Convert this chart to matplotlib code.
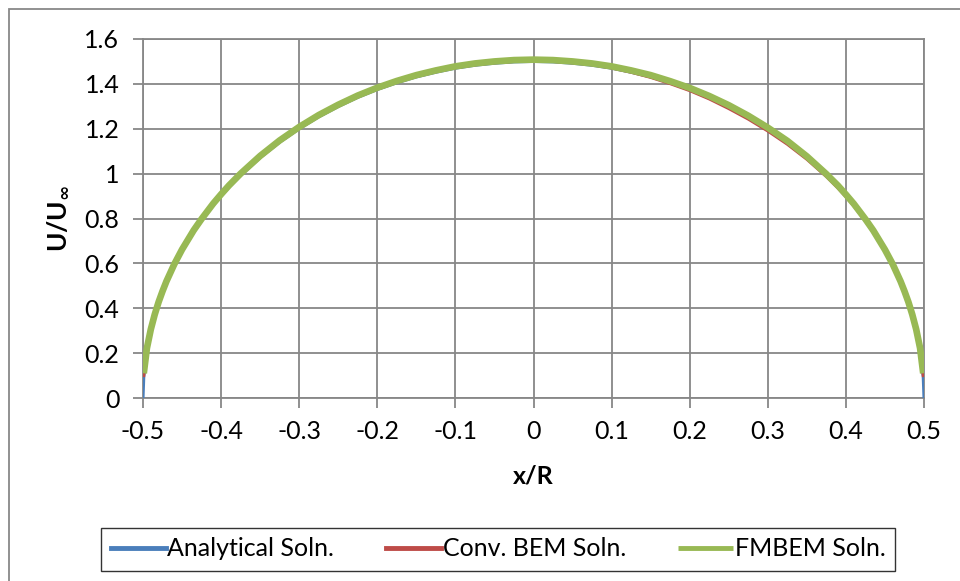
import matplotlib.pyplot as plt
from matplotlib.patches import Rectangle

plt.rcParams['font.family'] = ['Lato', 'DejaVu Sans']

# Solução analítica
x_anal = [-0.5, -0.499, -0.495, -0.49, -0.485, -0.48, -0.475, -0.47, -0.46, -0.45,
          -0.435, -0.425, -0.41, -0.4, -0.39, -0.375, -0.35, -0.325, -0.3, -0.275,
          -0.25, -0.225, -0.2, -0.175, -0.15, -0.125, -0.1, -0.075, -0.05, -0.025, 0.0,
          0.025, 0.05, 0.075, 0.1, 0.125, 0.15, 0.175, 0.2, 0.225, 0.25,
          0.275, 0.3, 0.325, 0.35, 0.375, 0.39, 0.4, 0.41, 0.425, 0.435,
          0.45, 0.46, 0.47, 0.475, 0.48, 0.485, 0.49, 0.495, 0.499, 0.5]
u_anal = [0.0, 0.095, 0.212, 0.298, 0.365, 0.42, 0.468, 0.512, 0.588, 0.654,
          0.74, 0.79, 0.859, 0.9, 0.939, 0.992, 1.071, 1.14, 1.2, 1.253,
          1.299, 1.34, 1.375, 1.405, 1.431, 1.452, 1.47, 1.483, 1.492, 1.498, 1.5,
          1.498, 1.492, 1.483, 1.47, 1.452, 1.431, 1.405, 1.375, 1.34, 1.299,
          1.253, 1.2, 1.14, 1.071, 0.992, 0.939, 0.9, 0.859, 0.79, 0.74,
          0.654, 0.588, 0.512, 0.468, 0.42, 0.365, 0.298, 0.212, 0.095, 0.0]

# BEM convencional
x_bem = [-0.499, -0.495, -0.49, -0.485, -0.48, -0.475, -0.47, -0.46, -0.45,
         -0.435, -0.425, -0.41, -0.4, -0.39, -0.375, -0.35, -0.325, -0.3, -0.275,
         -0.25, -0.225, -0.2, -0.175, -0.15, -0.125, -0.1, -0.075, -0.05, -0.025, 0.0,
         0.025, 0.05, 0.075, 0.1, 0.125, 0.15, 0.175, 0.2, 0.225, 0.25,
         0.275, 0.3, 0.325, 0.35, 0.375, 0.39, 0.4, 0.41, 0.425, 0.435,
         0.45, 0.46, 0.47, 0.475, 0.48, 0.485, 0.49, 0.495, 0.499]
u_bem = [0.10, 0.214, 0.3, 0.367, 0.422, 0.47, 0.514, 0.59, 0.656,
         0.742, 0.792, 0.861, 0.902, 0.941, 0.994, 1.073, 1.142, 1.202, 1.255,
         1.301, 1.342, 1.377, 1.407, 1.433, 1.454, 1.472, 1.485, 1.494, 1.5, 1.502,
         1.5, 1.494, 1.485, 1.471, 1.452, 1.429, 1.401, 1.37, 1.333, 1.29,
         1.243, 1.19, 1.131, 1.064, 0.987, 0.935, 0.897, 0.857, 0.789, 0.74,
         0.655, 0.59, 0.514, 0.47, 0.422, 0.367, 0.3, 0.214, 0.10]

# FMBEM
x_fmm = x_bem
u_fmm = [0.11, 0.222, 0.306, 0.372, 0.428, 0.476, 0.52, 0.596, 0.662,
         0.748, 0.798, 0.867, 0.908, 0.947, 1.0, 1.079, 1.148, 1.208, 1.261,
         1.307, 1.348, 1.383, 1.413, 1.439, 1.46, 1.478, 1.491, 1.5, 1.506, 1.508,
         1.506, 1.5, 1.491, 1.478, 1.46, 1.439, 1.412, 1.382, 1.346, 1.305,
         1.258, 1.205, 1.146, 1.077, 0.998, 0.946, 0.907, 0.866, 0.797, 0.747,
         0.661, 0.596, 0.52, 0.476, 0.428, 0.372, 0.306, 0.222, 0.11]

xticks = [-0.5, -0.4, -0.3, -0.2, -0.1, 0, 0.1, 0.2, 0.3, 0.4, 0.5]
xtick_labels = ['-0.5', '-0.4', '-0.3', '-0.2', '-0.1', '0', '0.1', '0.2', '0.3', '0.4', '0.5']
yticks = [0, 0.2, 0.4, 0.6, 0.8, 1, 1.2, 1.4, 1.6]
ytick_labels = ['0', '0.2', '0.4', '0.6', '0.8', '1', '1.2', '1.4', '1.6']

fig = plt.figure(figsize=(9.6, 5.81), dpi=100)
ax = fig.add_axes([143 / 960, 1 - 398 / 581, (924 - 143) / 960, (398 - 39) / 581])

grid_color = '#878787'
ax.plot(x_anal, u_anal, color='#4a7ebb', lw=2.2, label='Analytical Soln.', zorder=3)
ax.plot(x_bem, u_bem, color='#be4b48', lw=2.2, label='Conv. BEM Soln.', zorder=4)
ax.plot(x_fmm, u_fmm, color='#98b954', lw=4.8, label='FMBEM Soln.', zorder=5,
        solid_capstyle='butt')

ax.set_xlim(-0.5, 0.5)
ax.set_ylim(0, 1.6)
ax.set_xticks(xticks)
ax.set_xticklabels(xtick_labels)
ax.set_yticks(yticks)
ax.set_yticklabels(ytick_labels)
ax.tick_params(axis='both', labelsize=18, length=7, width=1.3, color=grid_color,
               direction='out')
ax.tick_params(axis='y', pad=10)
ax.tick_params(axis='x', pad=9)
ax.grid(True, color=grid_color, lw=1.3)
ax.set_axisbelow(True)
for s in ax.spines.values():
    s.set_color(grid_color)
    s.set_linewidth(1.3)

ax.set_xlabel('x/R', fontsize=18, fontweight='bold', labelpad=15)
ax.set_ylabel(r'U/U$_\mathbf{\infty}$', fontsize=19, fontweight='bold', labelpad=10)

leg = fig.legend(loc='center', bbox_to_anchor=(498 / 960, 1 - 549 / 581), ncol=3,
                 fontsize=18, frameon=True, fancybox=False, edgecolor='black',
                 handlelength=2.2, handletextpad=0.05, columnspacing=2.1,
                 borderpad=0.4)
leg.get_frame().set_linewidth(1.0)
for h in leg.get_lines():
    h.set_linewidth(3.5)

# borda externa do gráfico
fig.patches.append(Rectangle((9 / 960, -0.1), 1.0, 1 - 9 / 581 + 0.1,
                             transform=fig.transFigure, fill=False,
                             edgecolor='#888888', lw=1.3))

fig.savefig('out.png', dpi=100)
